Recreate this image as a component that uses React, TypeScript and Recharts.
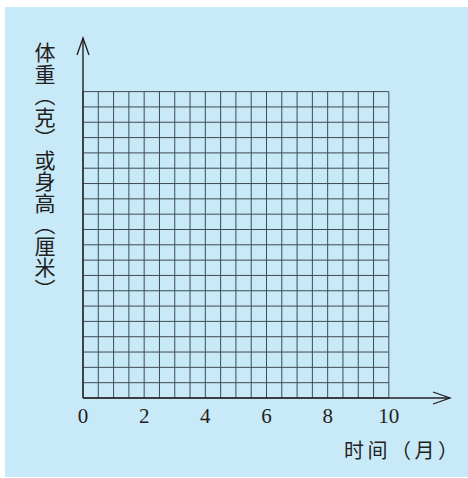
import { ComposedChart, XAxis, YAxis, ReferenceLine } from 'recharts';

// month ticks shown under the axis
const monthTicks = [0, 2, 4, 6, 8, 10];

// grid lines: every half month, every unit of value
const gridMonths = [0, 0.5, 1, 1.5, 2, 2.5, 3, 3.5, 4, 4.5, 5, 5.5, 6, 6.5, 7, 7.5, 8, 8.5, 9, 9.5, 10];
const gridValues = [0, 1, 2, 3, 4, 5, 6, 7, 8, 9, 10, 11, 12, 13, 14, 15, 16, 17, 18, 19, 20];

// where the axis arrows end
const monthAxisEnd = 12;
const valueAxisEnd = 23.5;

const yTitle = '体重︵克︶或身高︵厘米︶';
const xTitle = '时间（月）';

const INK = '#231f20';
const GRID = '#3f4b53';
const BG = '#c8e9f8';

const ArrowRight = (props: any) => {
  const { x1, y1, x2, y2 } = props;
  return (
    <g>
      <line x1={x1} y1={y1} x2={x2} y2={y2} stroke={INK} strokeWidth={1.4} />
      <polyline
        points={`${x2 - 17},${y2 - 6} ${x2},${y2} ${x2 - 17},${y2 + 6}`}
        fill="none"
        stroke={INK}
        strokeWidth={1.3}
      />
    </g>
  );
};

const ArrowUp = (props: any) => {
  const { x1, y1, x2, y2 } = props;
  // segment may be ordered either way, tip is the smaller y
  const tipY = Math.min(y1, y2);
  const baseY = Math.max(y1, y2);
  return (
    <g>
      <line x1={x1} y1={baseY} x2={x2} y2={tipY} stroke={INK} strokeWidth={1.4} />
      <polyline
        points={`${x1 - 6},${tipY + 17} ${x1},${tipY} ${x1 + 6},${tipY + 17}`}
        fill="none"
        stroke={INK}
        strokeWidth={1.3}
      />
    </g>
  );
};

export default function App() {
  return (
    <div style={{ position: 'absolute', left: 0, top: 0, width: 468, height: 478 }}>
      <div style={{ position: 'absolute', left: 5, top: 7, width: 463, height: 470, background: BG }} />

      <div style={{ position: 'absolute', left: 0, top: 0 }}>
        <ComposedChart width={468} height={478} data={[]} margin={{ top: 38, right: 18, left: 83, bottom: 50 }}>
          <XAxis
            type="number"
            dataKey="month"
            domain={[0, monthAxisEnd]}
            ticks={monthTicks}
            height={30}
            axisLine={false}
            tickLine={false}
            tickSize={0}
            tickMargin={10}
            allowDataOverflow
            tick={{ fill: INK, fontSize: 21, fontFamily: 'Liberation Serif' }}
          />
          <YAxis type="number" domain={[0, valueAxisEnd]} hide allowDataOverflow />

          {gridMonths.map((m) => (
            <ReferenceLine
              key={`v-${m}`}
              segment={[{ x: m, y: 0 }, { x: m, y: 20 }]}
              stroke={GRID}
              strokeWidth={1}
            />
          ))}
          {gridValues.map((v) => (
            <ReferenceLine
              key={`h-${v}`}
              segment={[{ x: 0, y: v }, { x: 10, y: v }]}
              stroke={GRID}
              strokeWidth={1}
            />
          ))}

          <ReferenceLine segment={[{ x: 0, y: 0 }, { x: monthAxisEnd, y: 0 }]} shape={ArrowRight} />
          <ReferenceLine segment={[{ x: 0, y: 0 }, { x: 0, y: valueAxisEnd }]} shape={ArrowUp} />
        </ComposedChart>
      </div>

      {/* vertical axis title */}
      <div
        style={{
          position: 'absolute',
          left: 34,
          top: 42,
          writingMode: 'vertical-rl',
          textOrientation: 'upright',
          fontFamily: '"Noto Sans CJK SC"',
          fontSize: 21,
          letterSpacing: 0.5,
          lineHeight: 1,
          color: INK,
          whiteSpace: 'nowrap',
        }}
      >
        {yTitle}
      </div>

      <div
        style={{
          position: 'absolute',
          left: 344,
          top: 440,
          fontFamily: '"Noto Sans CJK SC"',
          fontSize: 20,
          letterSpacing: 3.5,
          lineHeight: 1,
          color: INK,
          whiteSpace: 'nowrap',
        }}
      >
        {xTitle}
      </div>
    </div>
  );
}
